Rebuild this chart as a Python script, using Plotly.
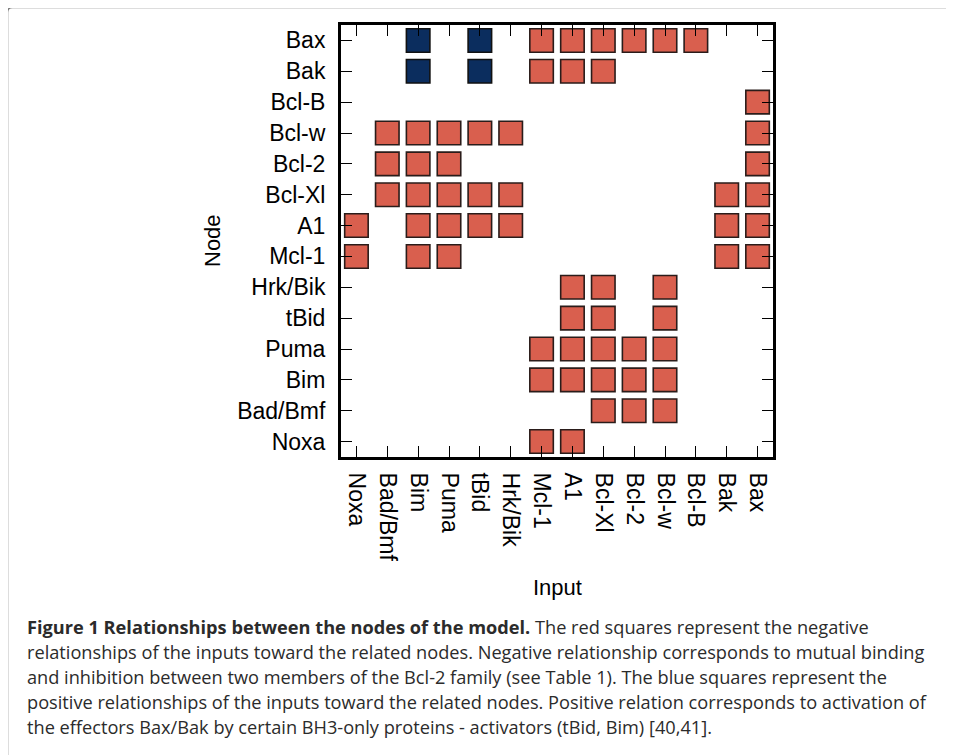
import plotly.graph_objects as go

# ---- data ----
nodes = ["Noxa", "Bad/Bmf", "Bim", "Puma", "tBid", "Hrk/Bik", "Mcl-1",
         "A1", "Bcl-Xl", "Bcl-2", "Bcl-w", "Bcl-B", "Bak", "Bax"]
inputs = list(nodes)

# negative relationships (red): node -> list of inputs
negative = {
    "Bax": ["Mcl-1", "A1", "Bcl-Xl", "Bcl-2", "Bcl-w", "Bcl-B"],
    "Bak": ["Mcl-1", "A1", "Bcl-Xl"],
    "Bcl-B": ["Bax"],
    "Bcl-w": ["Bad/Bmf", "Bim", "Puma", "tBid", "Hrk/Bik", "Bax"],
    "Bcl-2": ["Bad/Bmf", "Bim", "Puma", "Bax"],
    "Bcl-Xl": ["Bad/Bmf", "Bim", "Puma", "tBid", "Hrk/Bik", "Bak", "Bax"],
    "A1": ["Noxa", "Bim", "Puma", "tBid", "Hrk/Bik", "Bak", "Bax"],
    "Mcl-1": ["Noxa", "Bim", "Puma", "Bak", "Bax"],
    "Hrk/Bik": ["A1", "Bcl-Xl", "Bcl-w"],
    "tBid": ["A1", "Bcl-Xl", "Bcl-w"],
    "Puma": ["Mcl-1", "A1", "Bcl-Xl", "Bcl-2", "Bcl-w"],
    "Bim": ["Mcl-1", "A1", "Bcl-Xl", "Bcl-2", "Bcl-w"],
    "Bad/Bmf": ["Bcl-Xl", "Bcl-2", "Bcl-w"],
    "Noxa": ["Mcl-1", "A1"],
}
# positive relationships (blue)
positive = {
    "Bax": ["Bim", "tBid"],
    "Bak": ["Bim", "tBid"],
}

caption_lines = [
    "<b>Figure 1 Relationships between the nodes of the model.</b> The red squares represent the negative",
    "relationships of the inputs toward the related nodes. Negative relationship corresponds to mutual binding",
    "and inhibition between two members of the Bcl-2 family (see Table 1). The blue squares represent the",
    "positive relationships of the inputs toward the related nodes. Positive relation corresponds to activation of",
    "the effectors Bax/Bak by certain BH3-only proteins - activators (tBid, Bim) [40,41].",
]

# ---- layout geometry (page pixels; page body has an 8px margin) ----
OFF = 8
W, H = 954 - OFF, 755 - OFF
L, R, T, B = 341 - OFF, 773 - OFF, 25 - OFF, 457 - OFF
pw, ph = R - L, B - T


def px(x):
    return (x - OFF - L) / pw


def py(y):
    return (B - (y - OFF)) / ph


neg_x = [i for n, lst in negative.items() for i in lst]
neg_y = [n for n, lst in negative.items() for i in lst]
pos_x = [i for n, lst in positive.items() for i in lst]
pos_y = [n for n, lst in positive.items() for i in lst]

fig = go.Figure()
fig.add_trace(go.Scatter(
    x=neg_x, y=neg_y, mode="markers",
    marker=dict(symbol="square", size=23.5, color="#d95f4e",
                line=dict(color="#2a1c1a", width=1.6)),
    hoverinfo="x+y", showlegend=False))
fig.add_trace(go.Scatter(
    x=pos_x, y=pos_y, mode="markers",
    marker=dict(symbol="square", size=23.5, color="#0b2d5e",
                line=dict(color="#111111", width=1.6)),
    hoverinfo="x+y", showlegend=False))

LAB_FONT = "Liberation Sans"
axis_common = dict(
    type="category", range=[-0.5, 13.5], showgrid=False, zeroline=False,
    showline=True, linecolor="black", linewidth=3, mirror="ticks",
    ticks="inside", ticklen=11, tickwidth=1.3, tickcolor="black",
    tickfont=dict(family=LAB_FONT, size=23, color="black"),
    layer="above traces", fixedrange=True,
)

fig.update_xaxes(categoryorder="array", categoryarray=inputs, tickangle=90,
                 ticklabelstandoff=8, **axis_common)
fig.update_yaxes(categoryorder="array", categoryarray=nodes,
                 ticklabelstandoff=8, **axis_common)

annotations = [
    dict(text="Node", x=px(212), y=py(241), xref="paper", yref="paper",
         xanchor="center", yanchor="middle",
         showarrow=False, textangle=-90,
         font=dict(family=LAB_FONT, size=22, color="black")),
    dict(text="Input", x=px(557), y=py(587), xref="paper", yref="paper",
         xanchor="center", yanchor="middle",
         showarrow=False,
         font=dict(family=LAB_FONT, size=22, color="black")),
]
line_y = [627, 652, 677, 702, 727]
for txt, yy in zip(caption_lines, line_y):
    annotations.append(dict(
        text=txt, x=px(25), y=py(yy), xref="paper", yref="paper",
        xanchor="left", yanchor="middle", showarrow=False, align="left",
        font=dict(family="Open Sans, Noto Sans, sans-serif", size=18.2, color="#2b2b2b")))

# figure frame: rounded top-left corner, extends past right and bottom edges
x0, y0, x1, y1, r = px(7.5), py(7.5), px(954 + 20), py(755 + 20), 5
rx, ry = r / pw, r / ph
frame_path = (f"M {x0},{y1} L {x0},{y0 - ry} Q {x0},{y0} {x0 + rx},{y0} "
              f"L {x1},{y0} L {x1},{y1} Z")

fig.update_layout(
    width=W, height=H, autosize=False,
    margin=dict(l=L, r=W - R, t=T, b=H - B, pad=0),
    paper_bgcolor="white", plot_bgcolor="white",
    annotations=annotations,
    shapes=[dict(type="path", path=frame_path, xref="paper", yref="paper",
                 line=dict(color="#7a7a7a", width=1.5), layer="below")],
)

fig.write_html("out.html")
